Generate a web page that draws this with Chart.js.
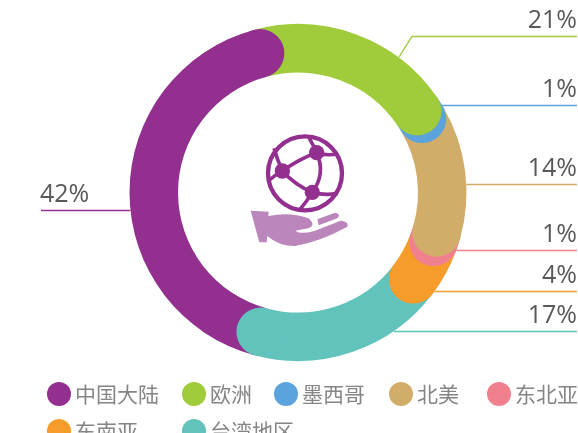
<!DOCTYPE html>
<html>
<head>
<meta charset="utf-8">
<style>
  html, body { margin: 0; padding: 0; background: #fff; overflow: hidden; }
  canvas { display: block; }
</style>
<script src="https://cdn.jsdelivr.net/npm/chart.js@4"></script>
</head>
<body>
<canvas id="chart" width="578" height="433"></canvas>
<script>
// regions, clockwise starting from the purple slice
const regions = ["中国大陆", "欧洲", "墨西哥", "北美", "东北亚", "东南亚", "台湾地区"];
// arc sizes as measured on the picture (the printed labels do not quite match them)
const arcShares = [41.6, 19.7, 1.0, 13.0, 1.1, 4.7, 18.9];
const printedLabels = ["42%", "21%", "1%", "14%", "1%", "4%", "17%"];
const colours = ["#93308f", "#a0cb3a", "#5ba3dc", "#d2ad6a", "#f0808e", "#f59c2a", "#62c3bd"];

// annotation layout
const leaderY = [210, 36, 105, 184, 250, 291, 331];
const legendX = [47, 182, 274, 389, 487, 47, 182];
const legendY = [394, 394, 394, 394, 394, 431, 431];

const capsPlugin = {
    id: "caps",
    afterDatasetsDraw(chart) {
        const ctx = chart.ctx;
        const arcs = chart.getDatasetMeta(0).data;
        // reverse order so that each cap lies over the cap of the slice after it
        for (let i = arcs.length - 1; i >= 0; i--) {
            const a = arcs[i];
            const mid = (a.innerRadius + a.outerRadius) / 2;
            const r = (a.outerRadius - a.innerRadius) / 2;
            ctx.beginPath();
            ctx.arc(a.x + Math.cos(a.endAngle) * mid, a.y + Math.sin(a.endAngle) * mid, r, 0, Math.PI * 2);
            ctx.fillStyle = colours[i];
            ctx.fill();
        }
    }
};

const leaderPlugin = {
    id: "leaders",
    afterDraw(chart) {
        const ctx = chart.ctx;
        const a = chart.getDatasetMeta(0).data[0];
        const R = a.outerRadius;
        ctx.save();
        ctx.font = '25px "Open Sans"';
        ctx.textBaseline = "alphabetic";
        leaderY.forEach(function (y, i) {
            const dx = Math.sqrt(R * R - (y - a.y) * (y - a.y));
            ctx.strokeStyle = colours[i];
            ctx.lineWidth = 1.4;
            ctx.beginPath();
            if (i === 0) {
                ctx.moveTo(41, y + 0.5);
                ctx.lineTo(a.x - dx, y + 0.5);
            } else if (i === 1) {
                ctx.moveTo(399, 57);
                ctx.lineTo(412, y + 0.5);
                ctx.lineTo(577, y + 0.5);
            } else {
                ctx.moveTo(a.x + dx, y + 0.5);
                ctx.lineTo(577, y + 0.5);
            }
            ctx.stroke();
            ctx.fillStyle = "#595959";
            if (i === 0) {
                ctx.textAlign = "left";
                ctx.fillText(printedLabels[i], 40, y - 8);
            } else {
                ctx.textAlign = "right";
                ctx.fillText(printedLabels[i], 577, y - 8);
            }
        });
        ctx.restore();
    }
};

const legendPlugin = {
    id: "sideLegend",
    afterDraw(chart) {
        const ctx = chart.ctx;
        ctx.save();
        ctx.font = '21px "Noto Sans CJK SC"';
        ctx.textAlign = "left";
        ctx.textBaseline = "middle";
        regions.forEach(function (name, i) {
            ctx.fillStyle = colours[i];
            ctx.beginPath();
            ctx.arc(legendX[i] + 12, legendY[i], 12, 0, Math.PI * 2);
            ctx.fill();
            ctx.fillStyle = "#858585";
            ctx.fillText(name, legendX[i] + 28, legendY[i]);
        });
        ctx.restore();
    }
};

// globe over a hand, traced in the coordinates of a 3x crop
const iconPlugin = {
    id: "icon",
    afterDraw(chart) {
        const ctx = chart.ctx;
        ctx.save();
        ctx.translate(220, 110);
        ctx.scale(1 / 3, 1 / 3);

        ctx.strokeStyle = "#93308f";
        ctx.fillStyle = "#93308f";
        ctx.lineWidth = 13;
        ctx.beginPath();
        ctx.arc(255, 190, 111, 0, Math.PI * 2);
        ctx.stroke();

        ctx.lineWidth = 11;
        // x1, y1, control x, control y, x2, y2
        const links = [
            [187, 183, 240, 145, 290, 128], [290, 128, 318, 190, 277, 247], [187, 183, 225, 225, 277, 247],
            [187, 183, 172, 150, 162, 115], [187, 183, 165, 195, 146, 212], [290, 128, 280, 105, 268, 85],
            [290, 128, 320, 138, 352, 132], [277, 247, 315, 258, 352, 250], [277, 247, 260, 275, 240, 298]
        ];
        links.forEach(function (l) {
            ctx.beginPath();
            ctx.moveTo(l[0], l[1]);
            ctx.quadraticCurveTo(l[2], l[3], l[4], l[5]);
            ctx.stroke();
        });
        [[187, 183], [290, 128], [277, 247]].forEach(function (p) {
            ctx.beginPath();
            ctx.arc(p[0], p[1], 23, 0, Math.PI * 2);
            ctx.fill();
        });

        ctx.fillStyle = "#bb86bb";
        ctx.beginPath();
        ctx.moveTo(92, 302);
        ctx.lineTo(146, 305);
        ctx.lineTo(145, 318);
        ctx.quadraticCurveTo(210, 305, 265, 325);
        ctx.quadraticCurveTo(290, 345, 265, 355);
        ctx.lineTo(226, 362);
        ctx.quadraticCurveTo(240, 375, 285, 362);
        ctx.lineTo(362, 332);
        ctx.quadraticCurveTo(388, 335, 382, 350);
        ctx.quadraticCurveTo(300, 395, 225, 408);
        ctx.quadraticCurveTo(175, 408, 142, 378);
        ctx.lineTo(140, 397);
        ctx.lineTo(118, 397);
        ctx.closePath();
        ctx.fill();
        ctx.beginPath();
        ctx.moveTo(292, 328);
        ctx.lineTo(345, 308);
        ctx.quadraticCurveTo(365, 312, 352, 325);
        ctx.lineTo(296, 346);
        ctx.closePath();
        ctx.fill();
        ctx.restore();
    }
};

new Chart(document.getElementById("chart"), {
    type: "doughnut",
    data: {
        labels: regions,
        datasets: [{
            data: arcShares,
            backgroundColor: colours,
            borderWidth: 0
        }]
    },
    options: {
        responsive: false,
        animation: false,
        rotation: 195,
        cutout: "71.2%",
        layout: { padding: { left: 129.5, right: 111.5, top: 24, bottom: 72 } },
        plugins: {
            legend: { display: false },
            tooltip: { enabled: false }
        }
    },
    plugins: [capsPlugin, leaderPlugin, legendPlugin, iconPlugin]
});
</script>
</body>
</html>
